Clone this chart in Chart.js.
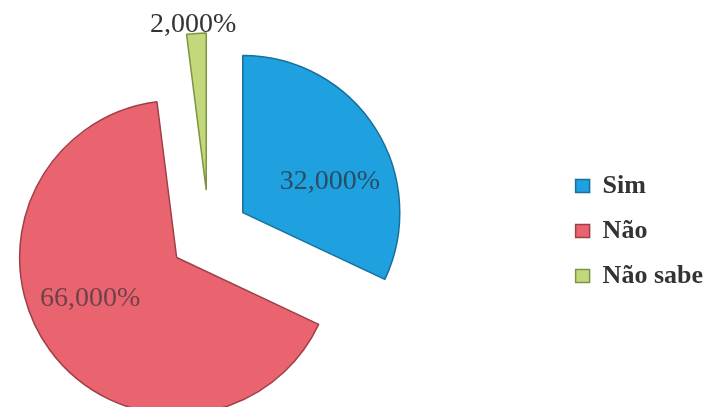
<!DOCTYPE html>
<html>
<head>
<meta charset="utf-8">
<script src="https://cdn.jsdelivr.net/npm/chart.js@4"></script>
<style>
  html, body { margin: 0; padding: 0; background: #fff; }
  #wrap { width: 713px; height: 407px; }
</style>
</head>
<body>
<div id="wrap"><canvas id="pieChart" width="713" height="407"></canvas></div>
<script>
// data
const categories = ['Sim', 'Não', 'Não sabe'];
const percents = [32, 66, 2];

// looks
const fillColors = ['#1FA0DF', '#EA6470', '#C2D87A'];
const edgeColors = ['#17709C', '#9E4048', '#7F9442'];
const labelColors = ['rgba(45,55,70,0.8)', 'rgba(70,55,60,0.75)', '#333'];
const explode = [40, 40, 44];          // px each slice is pulled out
const labelAt = [0.61, 0.545, 0.38];   // position along the slice (0 = start, 1 = end)
const labelDist = [0.59, 0.61, 1.06];  // fraction of radius

const fmt = v => v.toFixed(3).replace('.', ',') + '%';

// keep the pie on the left part of the canvas, legend on the right
const pieBox = {
  id: 'pieBox',
  afterLayout(chart) {
    const a = chart.chartArea;
    a.left = 0; a.right = 418;
    a.top = 61; a.bottom = 407;
    a.width = a.right - a.left;
    a.height = a.bottom - a.top;
  }
};

// pull slices out from the centre, along their own middle angle
const explodeSlices = {
  id: 'explodeSlices',
  afterDatasetsUpdate(chart) {
    const meta = chart.getDatasetMeta(0);
    meta.data.forEach((arc, i) => {
      const mid = (arc.startAngle + arc.endAngle) / 2;
      arc.x += Math.cos(mid) * explode[i];
      arc.y += Math.sin(mid) * explode[i];
    });
  }
};

const sliceLabels = {
  id: 'sliceLabels',
  afterDatasetsDraw(chart) {
    const ctx = chart.ctx;
    const meta = chart.getDatasetMeta(0);
    ctx.save();
    ctx.font = '28px "Liberation Serif", "Times New Roman", serif';
    ctx.textAlign = 'center';
    ctx.textBaseline = 'middle';
    meta.data.forEach((arc, i) => {
      const p = arc.getProps(['x', 'y', 'startAngle', 'endAngle', 'outerRadius'], true);
      const ang = p.startAngle + (p.endAngle - p.startAngle) * labelAt[i];
      const r = p.outerRadius * labelDist[i];
      ctx.fillStyle = labelColors[i];
      ctx.fillText(fmt(percents[i]), p.x + Math.cos(ang) * r, p.y + Math.sin(ang) * r);
    });
    ctx.restore();
  }
};

new Chart(document.getElementById('pieChart'), {
  type: 'pie',
  data: {
    labels: categories,
    datasets: [{
      data: percents,
      backgroundColor: fillColors,
      borderColor: edgeColors,
      borderWidth: 1.5
    }]
  },
  options: {
    responsive: false,
    animation: false,
    events: [],
    radius: 157,
    layout: { padding: { top: 55, right: 0 } },
    plugins: {
      tooltip: { enabled: false },
      legend: {
        position: 'right',
        labels: {
          boxWidth: 14,
          boxHeight: 13,
          padding: 19,
          color: '#333',
          font: { family: '"Liberation Serif", "Times New Roman", serif', size: 26, weight: 'bold' }
        }
      }
    }
  },
  plugins: [pieBox, explodeSlices, sliceLabels]
});
</script>
</body>
</html>
